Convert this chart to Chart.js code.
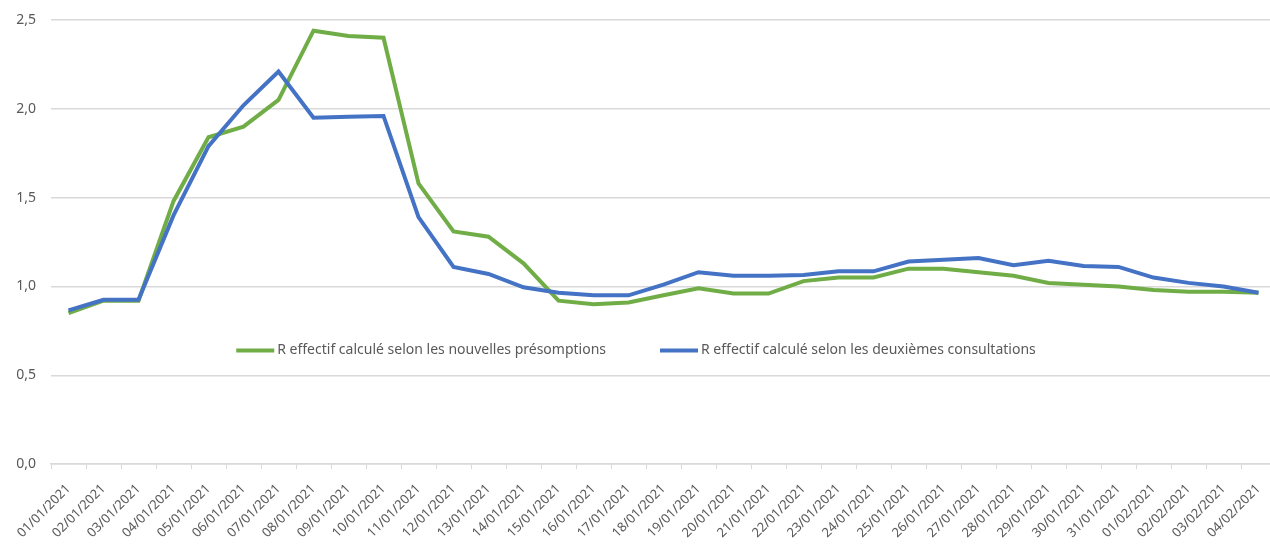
<!DOCTYPE html>
<html>
<head>
<meta charset="utf-8">
<title>R effectif</title>
<script src="https://cdn.jsdelivr.net/npm/chart.js@4/dist/chart.umd.min.js"></script>
<style>
  html, body { margin: 0; padding: 0; background: #fff; overflow: hidden; }
  #wrap { width: 1276px; height: 553px; }
</style>
</head>
<body>
<div id="wrap"><canvas id="lineChart"></canvas></div>
<script>
// dates (jours)
var jours = ['01/01/2021', '02/01/2021', '03/01/2021', '04/01/2021', '05/01/2021', '06/01/2021', '07/01/2021',
    '08/01/2021', '09/01/2021', '10/01/2021', '11/01/2021', '12/01/2021', '13/01/2021', '14/01/2021',
    '15/01/2021', '16/01/2021', '17/01/2021', '18/01/2021', '19/01/2021', '20/01/2021', '21/01/2021',
    '22/01/2021', '23/01/2021', '24/01/2021', '25/01/2021', '26/01/2021', '27/01/2021', '28/01/2021',
    '29/01/2021', '30/01/2021', '31/01/2021', '01/02/2021', '02/02/2021', '03/02/2021', '04/02/2021'];

// R effectif - nouvelles presomptions
var rPresomptions = [0.85, 0.92, 0.92, 1.48, 1.84, 1.90, 2.05, 2.44, 2.41, 2.40,
    1.58, 1.31, 1.28, 1.13, 0.92, 0.90, 0.91, 0.95, 0.99, 0.96,
    0.96, 1.03, 1.05, 1.05, 1.10, 1.10, 1.08, 1.06, 1.02, 1.01, 1.00,
    0.98, 0.97, 0.97, 0.965];

// R effectif - deuxiemes consultations
var rConsultations = [0.865, 0.925, 0.925, 1.40, 1.79, 2.02, 2.21, 1.95, 1.955, 1.96,
    1.39, 1.11, 1.07, 0.995, 0.965, 0.95, 0.95, 1.01, 1.08, 1.06,
    1.06, 1.065, 1.085, 1.085, 1.14, 1.15, 1.16, 1.12, 1.145, 1.115, 1.11,
    1.05, 1.02, 1.00, 0.965];

var yTicks = [0, 0.5, 1.0, 1.5, 2.0, 2.5];

var police = "'Noto Sans', 'Liberation Sans', sans-serif";
var gris = '#595959';

// legende dessinee dans la zone du graphe (comme dans Excel)
var legendeInterne = {
    id: 'legendeInterne',
    afterDraw: function (chart) {
        var ctx = chart.ctx;
        var y = chart.scales.y.getPixelForValue(0.64);
        ctx.save();
        ctx.font = '14px ' + police;
        ctx.textBaseline = 'middle';
        var lineLen = 38, gap = 3, space = 54;
        var items = chart.data.datasets.map(function (ds) {
            return { label: ds.label, color: ds.borderColor, w: lineLen + gap + ctx.measureText(ds.label).width };
        });
        var total = items.reduce(function (s, it) { return s + it.w; }, 0) + space * (items.length - 1);
        var x = 636 - total / 2;
        items.forEach(function (it) {
            ctx.strokeStyle = it.color;
            ctx.lineWidth = 4;
            ctx.beginPath();
            ctx.moveTo(x, y);
            ctx.lineTo(x + lineLen, y);
            ctx.stroke();
            ctx.fillStyle = gris;
            ctx.fillText(it.label, x + lineLen + gap, y);
            x += it.w + space;
        });
        ctx.restore();
    }
};

var ctxLine = document.getElementById('lineChart').getContext('2d');
var graf = new Chart(ctxLine, {
    type: 'line',
    data: {
        labels: jours,
        datasets: [{
            label: 'R effectif calculé selon les nouvelles présomptions',
            data: rPresomptions,
            borderColor: '#70AD47',
            backgroundColor: '#70AD47',
            borderWidth: 4,
            pointRadius: 0,
            tension: 0,
            order: 1
        }, {
            label: 'R effectif calculé selon les deuxièmes consultations',
            data: rConsultations,
            borderColor: '#4472C4',
            backgroundColor: '#4472C4',
            borderWidth: 4,
            pointRadius: 0,
            tension: 0,
            order: 0
        }]
    },
    options: {
        responsive: true,
        maintainAspectRatio: false,
        animation: false,
        layout: { padding: { left: 0, top: 20, right: 0, bottom: 0 } },
        plugins: {
            legend: { display: false },
            tooltip: { enabled: false }
        },
        scales: {
            x: {
                offset: true,
                grid: { offset: true, drawOnChartArea: false, drawTicks: true, tickLength: 5, color: '#d9d9d9' },
                border: { color: '#d9d9d9', width: 1.5 },
                ticks: {
                    color: gris,
                    font: { family: police, size: 13 },
                    minRotation: 45,
                    maxRotation: 45,
                    autoSkip: false,
                    padding: 12
                },
                afterFit: function (scale) {
                    // les etiquettes inclinees debordent a gauche, comme dans l'original
                    scale.paddingLeft = 0;
                    scale.paddingRight = 0;
                }
            },
            y: {
                min: 0,
                max: 2.5,
                afterBuildTicks: function (axis) {
                    axis.ticks = yTicks.map(function (v) { return { value: v }; });
                },
                afterFit: function (scale) {
                    scale.width = 51;
                    scale.paddingTop = 0;
                    scale.paddingBottom = 0;
                },
                grid: { color: '#d9d9d9', lineWidth: 1.5, drawTicks: false },
                border: { display: false },
                ticks: {
                    color: gris,
                    font: { family: police, size: 14 },
                    padding: 15,
                    callback: function (v) { return v.toFixed(1).replace('.', ','); }
                }
            }
        }
    },
    plugins: [legendeInterne]
});
</script>
</body>
</html>
